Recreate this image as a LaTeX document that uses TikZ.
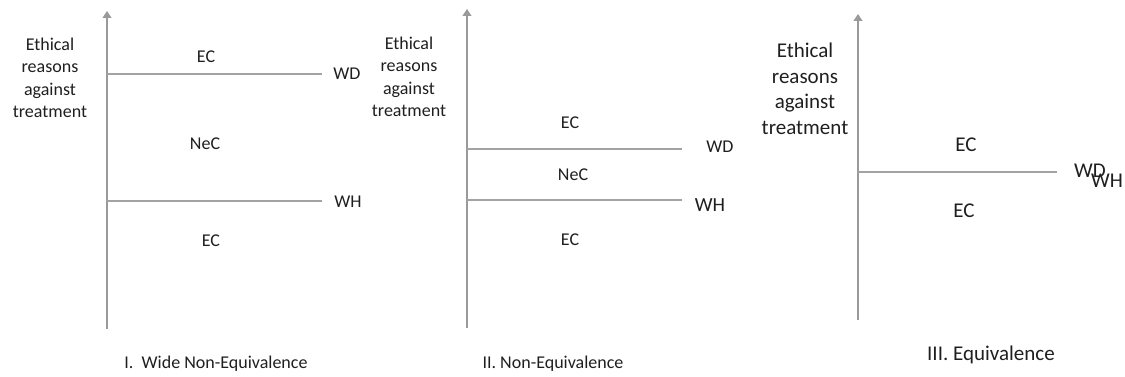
\documentclass[tikz,border=0pt]{standalone}
\usepackage{fontspec}
\setmainfont{Carlito}
\usetikzlibrary{arrows.meta}
\definecolor{axisgray}{HTML}{9A9A9A}
\definecolor{linegray}{HTML}{A3A3A3}
\definecolor{txt}{HTML}{1F1F1F}
\tikzset{
  axisline/.style={draw=axisgray, line width=1.2pt, -{Triangle[width=9pt,length=7pt]}},
  hline/.style={draw=linegray, line width=1.3pt},
  hlinethick/.style={draw=linegray, line width=2.2pt},
  lbl/.style={text=txt, inner sep=0pt, font=\fontsize{18}{22.5}\selectfont},
  lblbig/.style={text=txt, inner sep=0pt, font=\fontsize{21}{25.5}\selectfont},
  ylab/.style={lbl, align=center},
  ylabbig/.style={lblbig, align=center}
}
\begin{document}
\begin{tikzpicture}[x=1pt,y=-1pt]
\useasboundingbox (0,0) rectangle (1125,377);
% ---------- Panel I ----------
\coordinate (a1b) at (107,329);
\coordinate (a1t) at (107,11);
\draw[axisline] (a1b) -- (a1t);
\coordinate (d1a) at (107,74);
\coordinate (d1b) at (322,74);
\coordinate (h1a) at (107,201);
\coordinate (h1b) at (322,201);
\draw[hline] (d1a) -- (d1b);
\draw[hline] (h1a) -- (h1b);
\node[ylab] (y1) at (50,78) {Ethical\\reasons\\against\\treatment};
\node[lbl] (ec1a) at (206,57) {EC};
\node[lbl] (wd1) at (347,74) {WD};
\node[lbl] (nec1) at (205,144) {NeC};
\node[lbl] (wh1) at (348,202) {WH};
\node[lbl] (ec1b) at (211,241) {EC};
\node[lbl] (t1) at (216,364) {I.\ \ Wide Non-Equivalence};
% ---------- Panel II ----------
\coordinate (a2b) at (467,328);
\coordinate (a2t) at (467,9);
\draw[axisline] (a2b) -- (a2t);
\coordinate (d2a) at (467,149);
\coordinate (d2b) at (682,149);
\coordinate (h2a) at (467,200);
\coordinate (h2b) at (682,200);
\draw[hline] (d2a) -- (d2b);
\draw[hline] (h2a) -- (h2b);
\node[ylab] (y2) at (409,77) {Ethical\\reasons\\against\\treatment};
\node[lbl] (ec2a) at (570,123) {EC};
\node[lbl] (wd2) at (720,147) {WD};
\node[lbl] (nec2) at (573,175) {NeC};
\node[lbl, font=\fontsize{20}{24}\selectfont] (wh2) at (710,205) {WH};
\node[lbl] (ec2b) at (570,240) {EC};
\node[lbl] (t2) at (553,364) {II. Non-Equivalence};
% ---------- Panel III ----------
\coordinate (a3b) at (858,320);
\coordinate (a3t) at (858,14);
\draw[axisline] (a3b) -- (a3t);
\coordinate (e3a) at (858,172);
\coordinate (e3b) at (1057,172);
\draw[hlinethick] (e3a) -- (e3b);
\node[ylabbig] (y3) at (805,89) {Ethical\\reasons\\against\\treatment};
\node[lblbig] (ec3a) at (966,145) {EC};
\node[lblbig] (ec3b) at (964,211) {EC};
\node[lblbig] (wd3) at (1090,171) {WD};
\node[lblbig] (wh3) at (1107,181) {WH};
\node[lblbig] (t3) at (991,355) {III. Equivalence};
\end{tikzpicture}
\end{document}
